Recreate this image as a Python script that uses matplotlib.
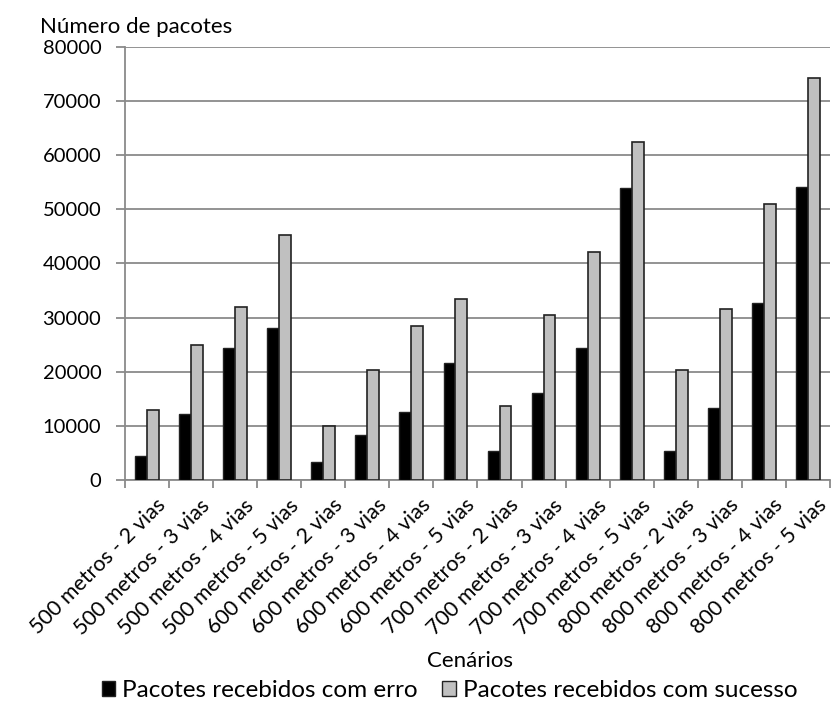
import matplotlib
matplotlib.use("Agg")
from matplotlib import pyplot as plt
import matplotlib.patches as mpatches
import matplotlib.transforms as mtransforms
import numpy as np

plt.rcParams['font.family'] = ['Lato', 'DejaVu Sans']

cenarios = ['500 metros - 2 vias', '500 metros - 3 vias', '500 metros - 4 vias', '500 metros - 5 vias',
            '600 metros - 2 vias', '600 metros - 3 vias', '600 metros - 4 vias', '600 metros - 5 vias',
            '700 metros - 2 vias', '700 metros - 3 vias', '700 metros - 4 vias', '700 metros - 5 vias',
            '800 metros - 2 vias', '800 metros - 3 vias', '800 metros - 4 vias', '800 metros - 5 vias']
com_erro = [4400, 12200, 24400, 28100, 3300, 8400, 12500, 21700,
            5450, 16000, 24400, 53900, 5400, 13300, 32700, 54200]
com_sucesso = [12950, 24900, 31900, 45200, 9950, 20300, 28400, 33500,
               13750, 30500, 42150, 62400, 20250, 31550, 51000, 74300]

fig = plt.figure(figsize=(8.31, 7.03), dpi=100)
ax = fig.add_axes([0.1504, 0.3172, 0.8484, 0.6160])

x = np.arange(len(cenarios))
w = 0.27
ax.bar(x - w / 2, com_erro, w, color='black', edgecolor='#222222', linewidth=1.0, zorder=3)
ax.bar(x + w / 2, com_sucesso, w, color='#c0c0c0', edgecolor='#222222', linewidth=1.2, zorder=3)

ax.set_xlim(-0.5, len(cenarios) - 0.5)
ax.set_ylim(0, 80000)
ax.set_yticks(np.arange(0, 80001, 10000))
ax.yaxis.grid(True, color='#8a8a8a', linewidth=1.3, zorder=0)
ax.set_axisbelow(True)

for s in ['top', 'right']:
    ax.spines[s].set_visible(False)
for s in ['left', 'bottom']:
    ax.spines[s].set_color('#8a8a8a')
    ax.spines[s].set_linewidth(1.3)

ax.tick_params(axis='y', length=6.5, color='#8a8a8a', width=1.3, labelsize=14.5, pad=10.5)
ax.set_xticks(x)
ax.set_xticklabels(cenarios, rotation=45, ha='right', rotation_mode='anchor', fontsize=15.5)
ax.tick_params(axis='x', which='major', length=0, pad=11)
ax.set_xticks(np.arange(-0.5, len(cenarios), 1.0), minor=True)
ax.tick_params(axis='x', which='minor', length=6, color='#8a8a8a', width=1.3)

# nudge the rotated labels a little to the right
shift = mtransforms.ScaledTranslation(0.09, 0, fig.dpi_scale_trans)
for lbl in ax.get_xticklabels():
    lbl.set_transform(lbl.get_transform() + shift)

fig.text(0.048, 0.962, 'Número de pacotes', fontsize=16, ha='left', va='center')
fig.text(0.566, 0.060, 'Cenários', fontsize=16, ha='center', va='center')

legends = [mpatches.Patch(facecolor='black', edgecolor='#222222', label='Pacotes recebidos com erro'),
           mpatches.Patch(facecolor='#c0c0c0', edgecolor='#222222', label='Pacotes recebidos com sucesso')]
fig.legend(handles=legends, loc='center', bbox_to_anchor=(0.541, 0.018), ncol=2, frameon=False,
           fontsize=17.5, handlelength=0.55, handleheight=0.55, handletextpad=0.3, columnspacing=1.0,
           borderpad=0.1)

fig.savefig('out.png', dpi=100)
